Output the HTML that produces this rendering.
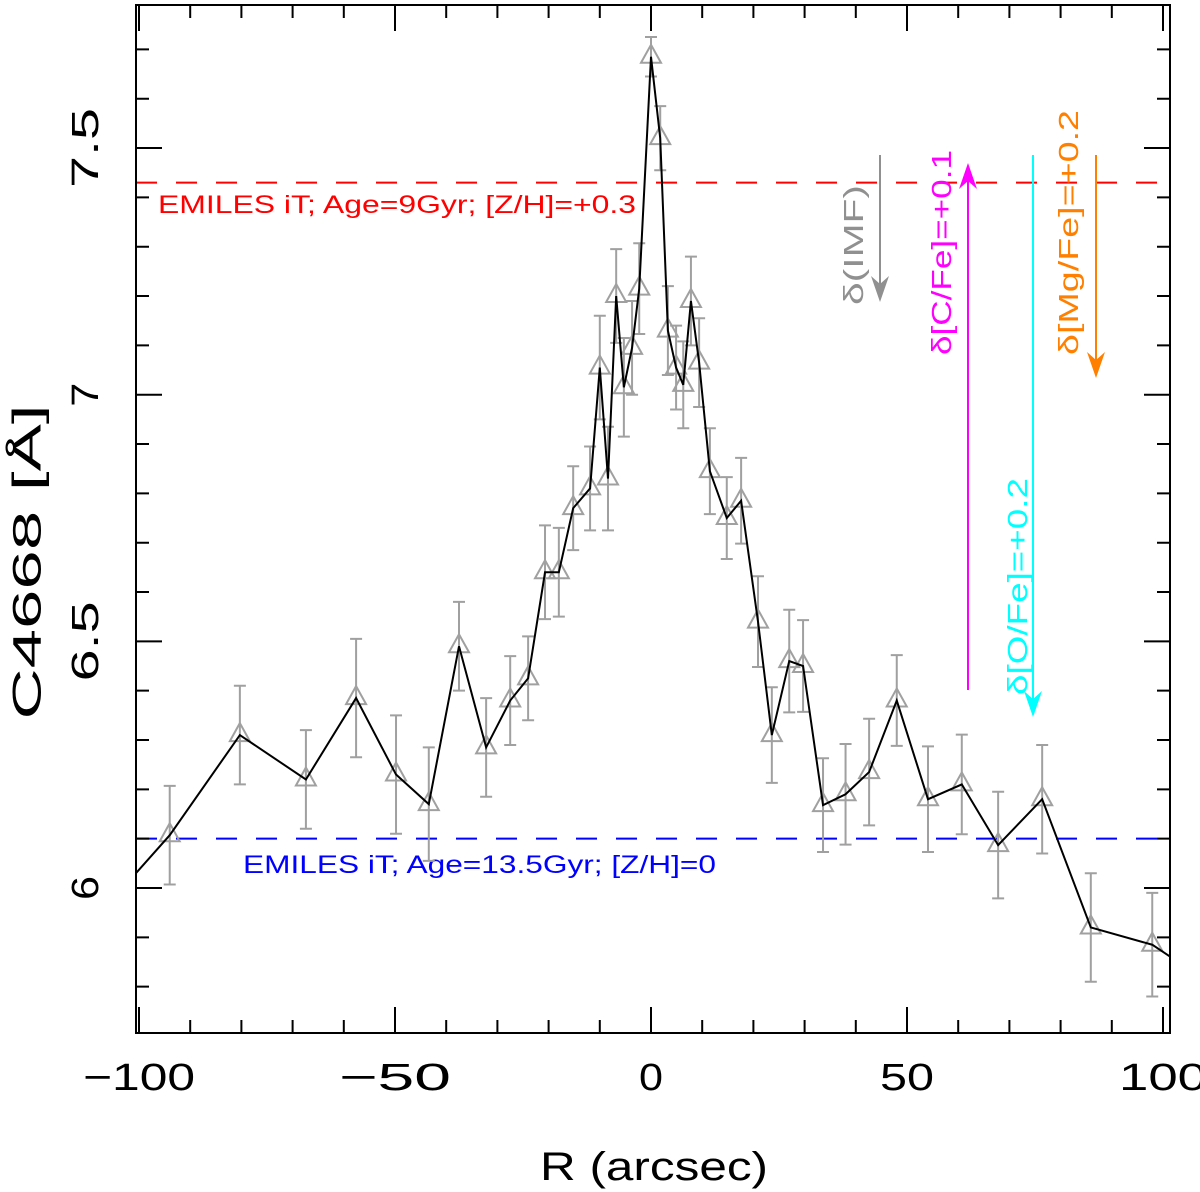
<!DOCTYPE html>
<html><head><meta charset="utf-8"><style>
html,body{margin:0;padding:0;background:#fff}
svg{display:block;font-family:"Liberation Sans","DejaVu Sans",sans-serif}
</style></head><body>
<svg id="chart" width="1200" height="1192" viewBox="0 0 1200 1192" xmlns="http://www.w3.org/2000/svg"></svg>
<script>
const radius=[-94,-80.3,-67.4,-57.6,-49.8,-43.4,-37.5,-32.2,-27.5,-24,-20.7,-18,-15.2,-11.9,-10,-8.4,-6.8,-5.3,-3.7,-2.3,0,1.8,3.3,4.9,6.3,7.8,9.4,11.5,14.8,17.6,20.9,23.6,27,29.7,33.6,38,42.6,48,54.1,60.7,67.8,76.4,85.9,97.9];
const index=[6.107,6.31,6.22,6.385,6.23,6.17,6.49,6.285,6.38,6.425,6.64,6.64,6.77,6.81,7.055,6.83,7.2,7.015,7.095,7.215,7.685,7.52,7.13,7.055,7.02,7.19,7.065,6.845,6.75,6.785,6.54,6.31,6.46,6.45,6.168,6.19,6.235,6.38,6.18,6.21,6.087,6.18,5.92,5.885];
const errs=[0.1,0.1,0.1,0.12,0.12,0.115,0.09,0.1,0.09,0.085,0.095,0.09,0.085,0.085,0.105,0.105,0.095,0.1,0.095,0.092,0.04,0.065,0.09,0.085,0.088,0.09,0.09,0.087,0.083,0.087,0.092,0.097,0.104,0.093,0.095,0.102,0.108,0.092,0.107,0.101,0.108,0.11,0.11,0.105];
const lineStartR=-100.6, lineStartV=6.03, lineEndR=101.5, lineEndV=5.86;
const refOld=7.43, refYoung=6.10;
const xTicks=[-100,-50,0,50,100];
const yTicks=[6,6.5,7,7.5];

const L=136,R=1170,T=5,B=1033;
const X0=651,XS=5.12,Y0=888,YS=493.3;
const sx=v=>X0+v*XS, sy=v=>Y0-(v-6)*YS;
const svg=document.getElementById('chart');
const NS='http://www.w3.org/2000/svg';
function mk(tag,at,parent){const e=document.createElementNS(NS,tag);for(const k in at)e.setAttribute(k,at[k]);(parent||svg).appendChild(e);return e;}

const clip=mk('clipPath',{id:'pc'});mk('rect',{x:L,y:T,width:R-L,height:B-T},clip);

let e=mk('line',{x1:L,x2:R,y1:sy(refOld),y2:sy(refOld),stroke:'#ff0000','stroke-width':2,'stroke-dasharray':'21 19'});

e=mk('line',{x1:L,x2:R,y1:sy(refYoung),y2:sy(refYoung),stroke:'#0000ff','stroke-width':2,'stroke-dasharray':'21 19'});

e=mk('text',{x:158,y:213,fill:'#ff0000','font-size':25,textLength:478,lengthAdjust:'spacingAndGlyphs'});e.textContent='EMILES iT; Age=9Gyr; [Z/H]=+0.3';

e=mk('text',{x:243,y:873,fill:'#0000ff','font-size':25,textLength:473,lengthAdjust:'spacingAndGlyphs'});e.textContent='EMILES iT; Age=13.5Gyr; [Z/H]=0';


const g=mk('g',{stroke:'#a0a0a0','stroke-width':2,fill:'none'});

for(let i=0;i<radius.length;i++){
  const x=sx(radius[i]),y=sy(index[i]),y1=sy(index[i]+errs[i]),y2=sy(index[i]-errs[i]);
  e=mk('path',{d:`M${x},${y1}V${y2}M${x-6},${y1}H${x+6}M${x-6},${y2}H${x+6}`},g);
  
  e=mk('path',{d:`M${x},${y-12}L${x+10},${y+6}L${x-10},${y+6}Z`},g);
  
}
let pts=[[sx(lineStartR),sy(lineStartV)]];
for(let i=0;i<radius.length;i++)pts.push([sx(radius[i]),sy(index[i])]);
pts.push([sx(lineEndR),sy(lineEndV)]);
e=mk('polyline',{points:pts.map(p=>p.join(',')).join(' '),fill:'none',stroke:'#000','stroke-width':2,'clip-path':'url(#pc)'});


function arrow(name,x,y1,y2,col,label,lx,ly,len){
  const gg=mk('g',{});
  const dir=y2>y1?1:-1;
  mk('line',{x1:x,x2:x,y1:y1,y2:y2-dir*18,stroke:col,'stroke-width':2},gg);
  mk('path',{d:`M${x},${y2}L${x-9},${y2-dir*26}L${x},${y2-dir*18}L${x+9},${y2-dir*26}Z`,fill:col},gg);
  const t=mk('text',{x:lx,y:ly,fill:col,'font-size':28,textLength:len,lengthAdjust:'spacingAndGlyphs',transform:`rotate(-90 ${lx} ${ly})`},gg);t.textContent=label;
}
arrow('arrow-imf',880,155,302,'#909090','δ(IMF)',863,305,120);
arrow('arrow-cfe',968,690,163,'#ff00ff','δ[C/Fe]=+0.1',951,355,205);
arrow('arrow-ofe',1033,155,717,'#00ffff','δ[O/Fe]=+0.2',1027,695,217);
arrow('arrow-mgfe',1096,155,378,'#ff8000','δ[Mg/Fe]=+0.2',1078,355,245);

const ax=mk('g',{stroke:'#000','stroke-width':2,fill:'none'});

mk('rect',{x:L,y:T,width:R-L,height:B-T},ax);
for(let v=-100;v<=100;v+=10){const x=sx(v),len=(v%50===0)?26:13;
  mk('path',{d:`M${x},${B}V${B-len}M${x},${T}V${T+len}`},ax);}
for(let k=58;k<=77;k++){const v=k/10,y=sy(v);if(y<T||y>B)continue;const len=(k%5===0)?26:13;
  mk('path',{d:`M${L},${y}H${L+len}M${R},${y}H${R-len}`},ax);}
for(const v of xTicks){const s=v<0?'\u2212'+Math.abs(v):String(v);
  const w=s.length===1?24:(s.length===2?54:(v<0?112:88));
  e=mk('text',{x:sx(v),y:1090,'font-size':38,'text-anchor':'middle',fill:'#000',textLength:w,lengthAdjust:'spacingAndGlyphs'});
  e.textContent=s;}
for(const v of yTicks){const y=sy(v);const s=String(v);
  e=mk('text',{x:88,y:y,'font-size':38,'text-anchor':'middle',fill:'#000',textLength:s.length===1?24:80,lengthAdjust:'spacingAndGlyphs',transform:`rotate(-90 88 ${y})`,'dominant-baseline':'middle'});
  e.textContent=s;}
e=mk('text',{x:654,y:1180,'font-size':40,'text-anchor':'middle',fill:'#000',textLength:228,lengthAdjust:'spacingAndGlyphs'});e.textContent='R (arcsec)';

e=mk('text',{x:30,y:562,'font-size':40,'text-anchor':'middle',fill:'#000',textLength:315,lengthAdjust:'spacingAndGlyphs',transform:'rotate(-90 30 562)','dominant-baseline':'middle'});e.textContent='C4668 [Å]';

</script>
</body></html>
